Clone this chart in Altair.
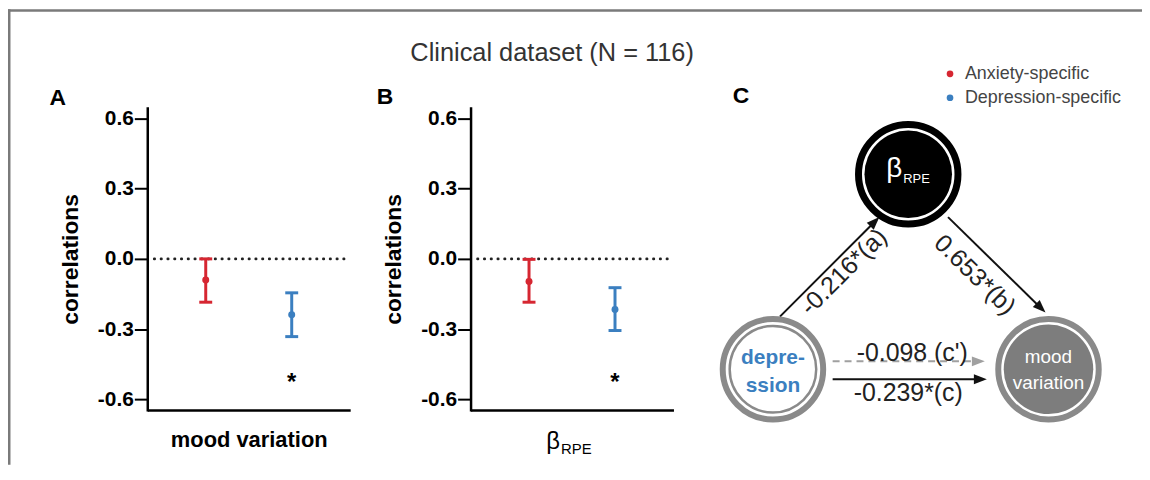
import math
import altair as alt
import pandas as pd

# ---------------- data ----------------
categories = ["Anxiety-specific", "Depression-specific"]
category_colors = ["#d62631", "#3b7fc0"]

# Panel A: correlations with mood variation (mean and interval)
mood_mid = [-0.090, -0.239]
mood_low = [-0.185, -0.332]
mood_high = [0.000, -0.145]

# Panel B: correlations with beta_RPE
rpe_mid = [-0.097, -0.216]
rpe_low = [-0.185, -0.306]
rpe_high = [-0.002, -0.123]

# significance markers
sig_category = ["Depression-specific"]
mood_sig_y = [-0.53]
rpe_sig_y = [-0.53]

y_tick_values = [-0.6, -0.3, 0.0, 0.3, 0.6]
y_domain = [-0.65, 0.65]

# Panel C: mediation diagram (diagram coordinates)
node_ids = ["rpe", "depression", "mood"]
node_x = [905, 769, 1046]
node_y = [166, 362, 362]

path_labels = ["-0.216*(a)", "0.653*(b)", "-0.239*(c)"]
path_x1 = [776, 945, 829]
path_y1 = [309, 209, 372]
path_x2 = [876, 1043, 984]
path_y2 = [209, 305, 372]
path_label_x = [840, 972, 905]
path_label_y = [264, 267, 386]

direct_labels = ["-0.098 (c')"]
direct_x1 = [829]
direct_y1 = [354]
direct_x2 = [982]
direct_y2 = [354]
direct_label_x = [909]
direct_label_y = [346]

# ---------------- layout ----------------
W, H = 1140, 458
FONT = "Liberation Sans"
Y_RANGE = [404, 98]
X_AXIS_Y = 403
PANEL_A = (140, 344)
PANEL_B = (465, 669)

dummy = pd.DataFrame({"k": [0]})
cscale = alt.Scale(domain=categories, range=category_colors)


def y_axis(axis_x):
    return alt.Axis(
        orient="left", offset=-axis_x, values=y_tick_values,
        labelExpr="datum.value < 0 ? '-' + format(-datum.value, '.1f') : format(datum.value, '.1f')",
        labelFont=FONT, labelFontSize=21, labelFontWeight="bold", labelColor="black",
        labelPadding=1, tickSize=13, tickWidth=2, tickColor="black",
        domainColor="black", domainWidth=2.5, grid=False,
        title="correlations", titleFont=FONT, titleFontSize=23, titleFontWeight="bold",
        titleColor="black", titleAngle=270, titleAlign="center", titleBaseline="middle",
        titleX=-77,
    )


def x_axis(title):
    return alt.Axis(
        orient="bottom", offset=X_AXIS_Y - H, ticks=False, labels=False,
        domainColor="black", domainWidth=2.5, grid=False,
        title=title, titleFont=FONT, titleFontSize=22, titleFontWeight="bold",
        titleColor="black", titleY=37, titleBaseline="alphabetic",
    )


def panel(mid, low, high, sig_y, x_range, x_title):
    df = pd.DataFrame({"category": categories, "mid": mid, "low": low, "high": high})
    sig = pd.DataFrame({"category": sig_category, "sig": sig_y})
    zero = pd.DataFrame({"zero": [0.0]})
    xs = alt.Scale(type="point", domain=categories, range=list(x_range), padding=0.68)
    ys = alt.Scale(domain=y_domain, range=Y_RANGE, zero=False, nice=False)
    xa = x_axis(x_title)
    ya = y_axis(x_range[0])
    X = alt.X("category:N", scale=xs, axis=xa)

    def Y(f):
        return alt.Y(f"{f}:Q", scale=ys, axis=ya)

    stroke = alt.Stroke("category:N", scale=cscale, legend=None)
    zero_line = alt.Chart(zero).mark_rule(
        color="#222222", strokeWidth=2.6, strokeDash=[0.5, 6.3], strokeCap="round"
    ).encode(x=alt.value(x_range[0] + 7), x2=alt.value(x_range[1]), y=Y("zero"))
    bars = alt.Chart(df).mark_rule(strokeWidth=3).encode(
        x=X, y=Y("low"), y2=alt.Y2("high"), stroke=stroke)
    cap = "M-1,0L1,0"
    cap_low = alt.Chart(df).mark_point(shape=cap, filled=False, size=169, strokeWidth=3, opacity=1).encode(
        x=X, y=Y("low"), stroke=stroke)
    cap_high = alt.Chart(df).mark_point(shape=cap, filled=False, size=169, strokeWidth=3, opacity=1).encode(
        x=X, y=Y("high"), stroke=stroke)
    dots = alt.Chart(df).mark_circle(size=49, opacity=1).encode(
        x=X, y=Y("mid"), color=alt.Color("category:N", scale=cscale, legend=None))
    star = alt.Chart(sig).mark_text(
        text="*", font=FONT, fontSize=24, fontWeight="bold", color="black"
    ).encode(x=X, y=Y("sig"))
    return alt.layer(zero_line, bars, cap_low, cap_high, dots, star)


def note(text, x, y, **kw):
    return alt.Chart(dummy).mark_text(text=text, font=FONT, **kw).encode(
        x=alt.value(x), y=alt.value(y))


# ---------------- legend (drawn from the categories) ----------------
legend_df = pd.DataFrame({"category": categories})
legend_y = alt.Y("category:N", axis=None,
                 scale=alt.Scale(type="point", domain=categories, range=[65, 89], padding=0))
legend_layer = alt.layer(
    alt.Chart(legend_df).mark_circle(size=45, opacity=1).encode(
        x=alt.value(947), y=legend_y,
        color=alt.Color("category:N", scale=cscale, legend=None)),
    alt.Chart(legend_df).mark_text(
        font=FONT, fontSize=18, color="#444444", align="left", baseline="middle"
    ).encode(x=alt.value(962), y=legend_y, text="category:N"),
)

# ---------------- diagram ----------------
DXs = alt.Scale(domain=[0, W], range=[0, W], zero=False, nice=False)
DYs = alt.Scale(domain=[0, H], range=[0, H], zero=False, nice=False)


def DX(f):
    return alt.X(f"{f}:Q", scale=DXs, axis=None)


def DY(f):
    return alt.Y(f"{f}:Q", scale=DYs, axis=None)


ARROW = "M0,0L-0.38,1L0.38,1Z"


def edge_frame(labels, x1, y1, x2, y2, lx, ly):
    df = pd.DataFrame(dict(label=labels, x1=x1, y1=y1, x2=x2, y2=y2, lx=lx, ly=ly))
    dx = df.x2 - df.x1
    dy = df.y2 - df.y1
    L = (dx ** 2 + dy ** 2) ** 0.5
    df["ex"] = df.x2 - 7 * dx / L
    df["ey"] = df.y2 - 7 * dy / L
    df["head"] = [math.degrees(math.atan2(a, -b)) % 360 for a, b in zip(dx, dy)]
    df["tang"] = [math.degrees(math.atan2(b, a)) % 360 for a, b in zip(dx, dy)]
    return df


def edge_layers(df, color, dash=None):
    kw = dict(color=color, strokeWidth=2)
    if dash:
        kw["strokeDash"] = dash
    line = alt.Chart(df).mark_rule(**kw).encode(
        x=DX("x1"), y=DY("y1"), x2=alt.X2("ex"), y2=alt.Y2("ey"))
    head = alt.Chart(df).mark_point(
        shape=ARROW, filled=True, size=676, color=color, opacity=1, strokeWidth=0
    ).encode(x=DX("x2"), y=DY("y2"), angle=alt.Angle("head:Q", scale=None))
    text = alt.Chart(df).mark_text(font=FONT, fontSize=25, color="#222222").encode(
        x=DX("lx"), y=DY("ly"), text="label:N", angle=alt.Angle("tang:Q", scale=None))
    return [line, head, text]


nodes = pd.DataFrame({"id": node_ids, "x": node_x, "y": node_y})
node_base = alt.Chart(nodes).encode(x=DX("x"), y=DY("y"))
GRAY = "#8a8a8a"
BLUE = category_colors[1]


def node(nid):
    return node_base.transform_filter(alt.datum.id == nid)


node_layers = [
    # beta_RPE
    node("rpe").mark_point(shape="circle", filled=False, color="black", strokeWidth=7, size=100 ** 2, opacity=1),
    node("rpe").mark_point(shape="circle", filled=True, fill="black", strokeWidth=0, size=88 ** 2, opacity=1),
    node("rpe").mark_text(text="β", font=FONT, fontSize=28, color="white", align="right", baseline="alphabetic", dx=-6, dy=3),
    node("rpe").mark_text(text="RPE", font=FONT, fontSize=13, color="white", align="left", baseline="alphabetic", dx=-5, dy=9),
    # depression
    node("depression").mark_point(shape="circle", filled=False, color=GRAY, strokeWidth=6, size=101 ** 2, opacity=1),
    node("depression").mark_point(shape="circle", filled=True, fill="white", stroke=GRAY, strokeWidth=2.5, size=87 ** 2, opacity=1),
    node("depression").mark_text(text="depre-", font=FONT, fontSize=21, fontWeight="bold", color=BLUE, baseline="alphabetic", dy=-5),
    node("depression").mark_text(text="ssion", font=FONT, fontSize=21, fontWeight="bold", color=BLUE, baseline="alphabetic", dy=23),
    # mood variation
    node("mood").mark_point(shape="circle", filled=False, color=GRAY, strokeWidth=6, size=101 ** 2, opacity=1),
    node("mood").mark_point(shape="circle", filled=True, fill="#7d7d7d", strokeWidth=0, size=90 ** 2, opacity=1),
    node("mood").mark_text(text="mood", font=FONT, fontSize=19, color="white", baseline="alphabetic", dy=-6),
    node("mood").mark_text(text="variation", font=FONT, fontSize=19, color="white", baseline="alphabetic", dy=20),
]

paths = edge_frame(path_labels, path_x1, path_y1, path_x2, path_y2, path_label_x, path_label_y)
direct = edge_frame(direct_labels, direct_x1, direct_y1, direct_x2, direct_y2, direct_label_x, direct_label_y)

diagram = alt.layer(
    *edge_layers(direct, "#a0a0a0", dash=[7, 5]),
    *edge_layers(paths, "#111111"),
    *node_layers,
)

# ---------------- annotations ----------------
border_top = alt.Chart(dummy).mark_rule(color="#7a7a7a", strokeWidth=2.5).encode(
    x=alt.value(0), x2=alt.value(W), y=alt.value(1.25))
border_left = alt.Chart(dummy).mark_rule(color="#7a7a7a", strokeWidth=2.5).encode(
    x=alt.value(1.25), y=alt.value(0), y2=alt.value(H))

annotations = [
    border_top, border_left,
    note("Clinical dataset (N = 116)", 547, 44, fontSize=25.5, color="#333333", align="center", baseline="middle"),
    note("A", 50, 89, fontSize=23, fontWeight="bold", color="black", align="center", baseline="middle"),
    note("B", 379, 88, fontSize=23, fontWeight="bold", color="black", align="center", baseline="middle"),
    note("C", 737, 87, fontSize=23, fontWeight="bold", color="black", align="center", baseline="middle"),
    note("β", 555, 442, fontSize=24, color="black", align="right", baseline="alphabetic"),
    note("RPE", 556, 447, fontSize=15, color="black", align="left", baseline="alphabetic"),
]

panel_a = panel(mood_mid, mood_low, mood_high, mood_sig_y, PANEL_A, "mood variation")
panel_b = panel(rpe_mid, rpe_low, rpe_high, rpe_sig_y, PANEL_B, "")

chart = alt.layer(
    *annotations, panel_a, panel_b, legend_layer, diagram
).resolve_scale(
    x="independent", y="independent"
).properties(
    width=W, height=H, padding=0, autosize=alt.AutoSizeParams(type="none")
).configure(font=FONT).configure_view(stroke=None)

chart.save("out.html", embed_options={"renderer": "svg", "actions": False})
